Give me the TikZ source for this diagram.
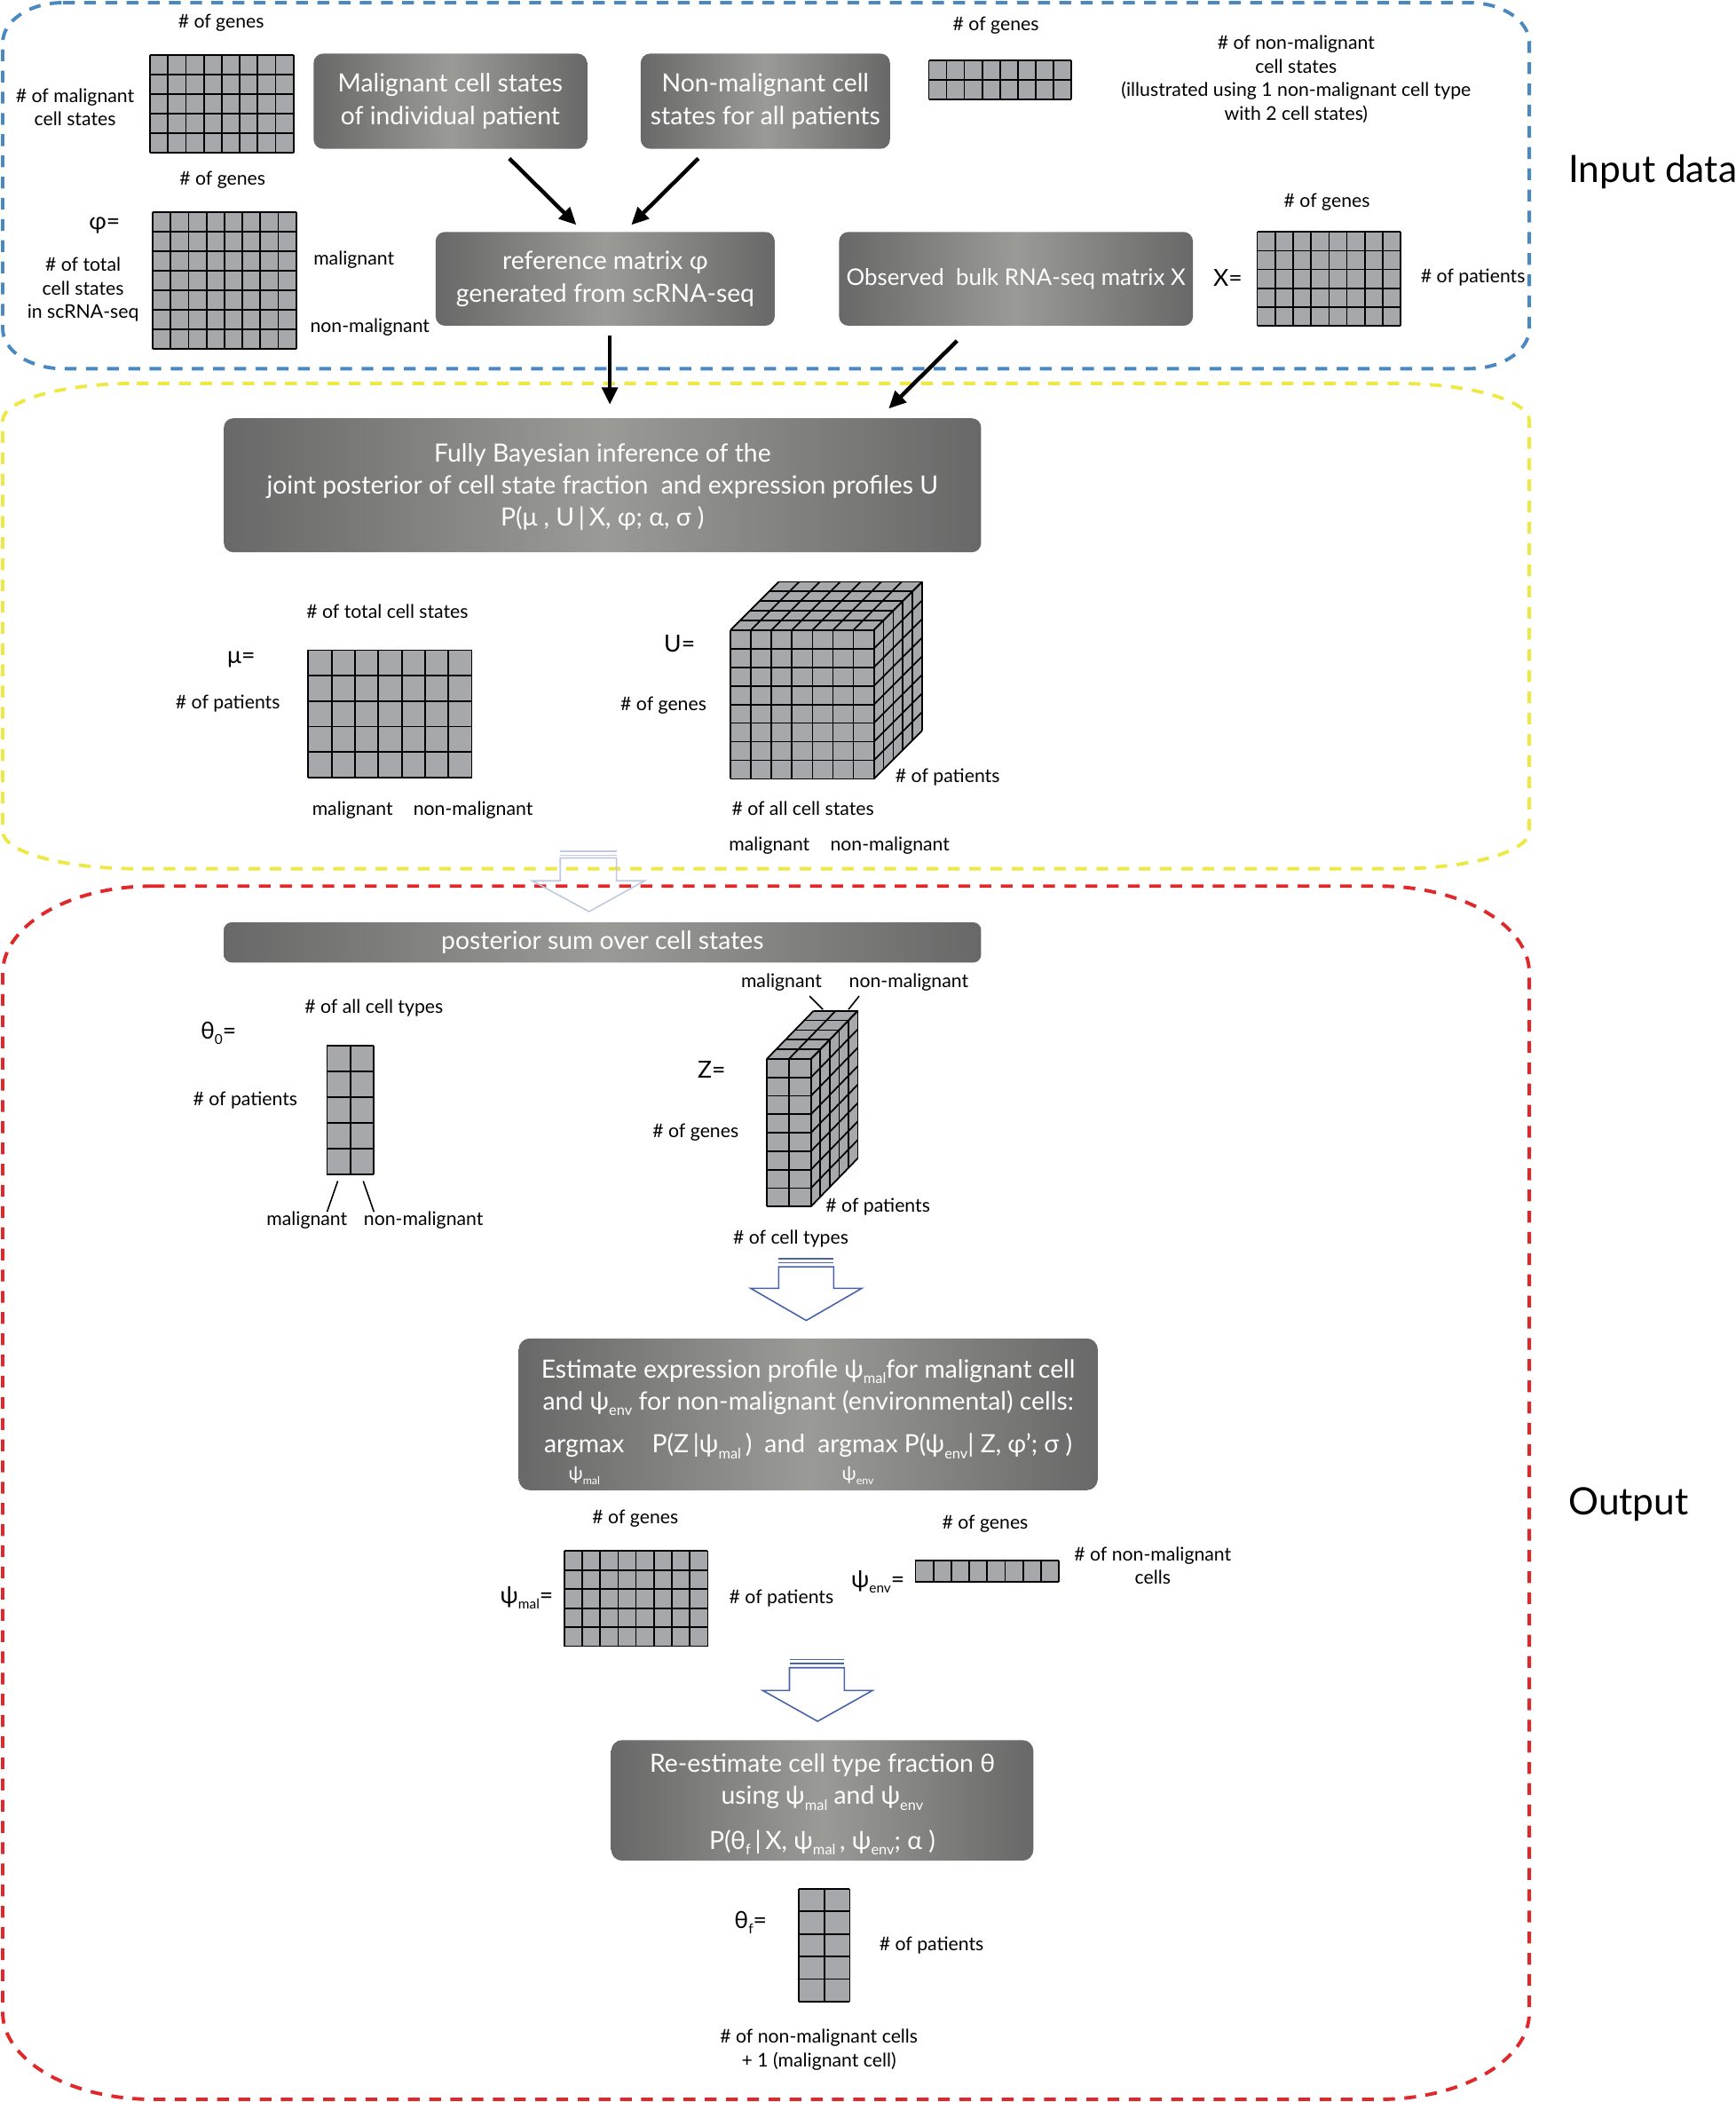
\documentclass[tikz,border=0pt]{standalone}
\usepackage{fontspec}
\setmainfont{Lato}
\usetikzlibrary{arrows.meta}
\definecolor{blueD}{RGB}{74,136,194}
\definecolor{yellowD}{RGB}{238,232,70}
\definecolor{redD}{RGB}{224,40,42}
\definecolor{cellfill}{RGB}{166,168,172}
\definecolor{boxdark}{RGB}{104,104,104}
\definecolor{boxlight}{RGB}{154,154,151}
\definecolor{paleA}{RGB}{190,200,222}
\definecolor{hollowB}{RGB}{72,100,168}
\newcommand\lo[1]{\raisebox{-0.45ex}{\scalebox{0.58}{#1}}}
\newcommand\argm[1]{\begin{tabular}[t]{@{}c@{}}argmax\\[-3pt]\scalebox{0.75}{ψ\lo{#1}}\end{tabular}}
\newcommand\mgrid[6]{%
  \fill[cellfill] (#1,#2) rectangle (#3,#4);
  \foreach \k in {0,...,#5} \draw[gridline] ({#1+(#3-#1)*\k/#5},#2) -- ({#1+(#3-#1)*\k/#5},#4);
  \foreach \k in {0,...,#6} \draw[gridline] (#1,{#2+(#4-#2)*\k/#6}) -- (#3,{#2+(#4-#2)*\k/#6});
}
\newcommand\mcube[9]{%
  \fill[cellfill] (#1,#2) -- (#3,#2) -- ({#3+(#8)},{#2+(#9)}) -- ({#1+(#8)},{#2+(#9)}) -- cycle;
  \fill[cellfill] (#3,#2) -- ({#3+(#8)},{#2+(#9)}) -- ({#3+(#8)},{#4+(#9)}) -- (#3,#4) -- cycle;
  \foreach \k in {0,...,#5} \draw[gridline] ({#1+(#3-#1)*\k/#5},#2) -- ({#1+(#3-#1)*\k/#5+(#8)},{#2+(#9)});
  \foreach \k in {0,...,#7} \draw[gridline] ({#1+(#8)*\k/#7},{#2+(#9)*\k/#7}) -- ({#3+(#8)*\k/#7},{#2+(#9)*\k/#7}) -- ({#3+(#8)*\k/#7},{#4+(#9)*\k/#7});
  \foreach \k in {0,...,#6} \draw[gridline] (#3,{#2+(#4-#2)*\k/#6}) -- ({#3+(#8)},{#2+(#4-#2)*\k/#6+(#9)});
  \mgrid{#1}{#2}{#3}{#4}{#5}{#6}
}
\newcommand\erect[7]{%
  \draw[#1] ({#2+#6},#3) -- ({#4-#6},#3)
    arc[start angle=-90,end angle=0,x radius=#6,y radius=#7] -- (#4,{#5-#7})
    arc[start angle=0,end angle=90,x radius=#6,y radius=#7] -- ({#2+#6},#5)
    arc[start angle=90,end angle=180,x radius=#6,y radius=#7] -- (#2,{#3+#7})
    arc[start angle=180,end angle=270,x radius=#6,y radius=#7] -- cycle;
}
\begin{document}
\begin{tikzpicture}[x=0.03cm,y=-0.03cm,
  lbl/.style={font=\fontsize{12}{15}\selectfont, align=center, inner sep=0pt},
  eq/.style={font=\fontsize{15}{18}\selectfont, inner sep=0pt},
  sect/.style={font=\fontsize{24}{28}\selectfont, inner sep=0pt, anchor=west},
  gbox/.style={rounded corners=6pt, left color=boxdark, right color=boxdark, middle color=boxlight, text=white, align=center, font=\fontsize{16}{20.5}\selectfont, inner sep=0pt},
  bsize/.style 2 args={minimum width=#1*0.03cm, minimum height=#2*0.03cm},
  blk/.style={line width=2.5pt, -{Triangle[length=11pt,width=10pt]}},
  gridline/.style={line width=1pt, black},
  frame/.style={line width=2.2pt, dash pattern=on 7.5pt off 6pt},
  leader/.style={line width=0.9pt},
  hol/.style={line width=0.9pt, line join=miter}]
\useasboundingbox (0,0) rectangle (1295,1568);

% ---------- section frames ----------
\erect{frame,blueD}{2}{2}{1141}{275}{45}{30}
\erect{frame,yellowD}{2}{286}{1141}{648}{100}{28}
\erect{frame,redD}{2}{661}{1141}{1566}{112}{65}
\node[sect] (inputlbl) at (1170,128) {Input data};
\node[sect] (outputlbl) at (1170,1122) {Output};

% ---------- input data ----------
\node[lbl] (g1) at (165,17) {\# of genes};
\mgrid{112}{41}{219}{114}{8}{5}
\node[lbl] (malst) at (56,80) {\# of malignant\\cell states};
\node[gbox,bsize={204}{71}] (mal) at (336,75.5) {Malignant cell states\\of individual patient};
\node[gbox,bsize={186}{71}] (nonmal) at (571,75.5) {Non-malignant cell\\states for all patients};
\node[lbl] (g2) at (743,19) {\# of genes};
\mgrid{693}{45}{799}{74}{8}{2}
\node[lbl] (nmst) at (967,59) {\# of non-malignant\\cell states\\(illustrated using 1 non-malignant cell type\\with 2 cell states)};

\node[lbl] (g3) at (166,134) {\# of genes};
\node[eq] (phieq) at (78,168) {φ=};
\mgrid{114}{158}{221}{260}{8}{7}
\node[lbl] (totst) at (62,216) {\# of total\\cell states\\in scRNA-seq};
\node[lbl] (phimal) at (264,194) {malignant};
\node[lbl] (phinon) at (276,244) {non-malignant};
\node[gbox,bsize={253}{70}] (ref) at (451.5,208) {reference matrix φ\\generated from scRNA-seq};
\node[gbox,bsize={264}{70},font=\fontsize{14.6}{18}\selectfont] (obs) at (758,208) {Observed\ \ bulk RNA-seq matrix X};
\node[eq] (xeq) at (916,207) {X=};
\mgrid{938}{173}{1045}{243}{8}{5}
\node[lbl] (g4) at (990,151) {\# of genes};
\node[lbl] (p1) at (1099,207) {\# of patients};

\draw[blk] ([shift={(44,7)}]mal.south) -- ([shift={(-21.5,-5)}]ref.north);
\draw[blk] ([shift={(-50,7)}]nonmal.south) -- ([shift={(19.5,-5)}]ref.north);

% ---------- inference ----------
\node[gbox,bsize={565}{100}] (bayes) at (449.5,362) {\rule{0pt}{14pt}Fully Bayesian inference of the\\joint posterior of cell state fraction\ \ and expression profiles U\\P(μ , U\,|\,X, φ; α, σ )};
\draw[blk] ([shift={(3.5,7)}]ref.south) -- ([shift={(5.5,-10)}]bayes.north);
\draw[blk] ([shift={(-44,11)}]obs.south) -- ([shift={(213.5,-7)}]bayes.north);

\node[lbl] (tcs) at (289,456) {\# of total cell states};
\node[eq] (mueq) at (180,492) {μ=};
\node[lbl] (p2) at (170,525) {\# of patients};
\mgrid{230}{485}{352}{580}{7}{5}
\node[lbl] (mumal) at (263,604) {malignant};
\node[lbl] (munon) at (353,604) {non-malignant};

\node[eq] (ueq) at (507,480) {U=};
\node[lbl] (g5) at (495,526) {\# of genes};
\mcube{545}{470}{652}{581}{7}{8}{5}{36}{-36}
\node[lbl] (p3) at (707,580) {\# of patients};
\node[lbl] (acs) at (599,603) {\# of all cell states};
\node[lbl] (umal) at (574,631) {malignant};
\node[lbl] (unon) at (664,631) {non-malignant};

% hollow arrow A
\draw[hol,paleA] (418,635) -- (460,635) (418,638) -- (460,638);
\draw[hol,paleA] (418,640) -- (418,657) -- (397,657) -- (439.5,680) -- (481,657) -- (460,657) -- (460,640) -- cycle;

% ---------- output ----------
\node[gbox,rounded corners=5pt,bsize={565}{30}] (post) at (449.5,703) {posterior sum over cell states};

\node[lbl] (act) at (279,752) {\# of all cell types};
\node[eq] (th0eq) at (163,771) {θ\lo{0}=};
\node[lbl] (p4) at (183,821) {\# of patients};
\mgrid{244}{780}{279}{876}{2}{5}
\coordinate (t0a) at (252,881);
\coordinate (t0b) at (271,881);
\node[lbl] (t0mal) at (229,910) {malignant};
\node[lbl] (t0non) at (316,910) {non-malignant};
\draw[leader] (t0a) -- (244,904);
\draw[leader] (t0b) -- (279,904);

\node[lbl] (zmal) at (583,733) {malignant};
\node[lbl] (znon) at (678,733) {non-malignant};
\draw[leader] (604,743) -- (614,753);
\draw[leader] (641,743) -- (633,753);
\node[eq] (zeq) at (531,798) {Z=};
\node[lbl] (g6) at (519,845) {\# of genes};
\mcube{572}{790}{605}{900}{2}{8}{5}{35}{-36}
\node[lbl] (p5) at (655,900) {\# of patients};
\node[lbl] (nct) at (590,924) {\# of cell types};

% hollow arrow B
\draw[hol,hollowB] (581,939) -- (622,939) (581,942) -- (622,942);
\draw[hol,hollowB] (581,945) -- (581,961) -- (560,961) -- (601.5,985) -- (643,961) -- (622,961) -- (622,945) -- cycle;

\node[gbox,rounded corners=7pt,bsize={432}{110}] (est) at (603,1055) {\rule{0pt}{25pt}Estimate expression profile ψ\lo{mal}for malignant cell\\and ψ\lo{env} for non-malignant (environmental) cells:\\[7pt]\argm{mal}\hspace{1.1em}P(Z\,|ψ\lo{mal}\,)\hspace{0.5em}and\hspace{0.5em}\argm{env} P(ψ\lo{env}| Z, φ’; σ )};

\node[lbl] (g7) at (474,1133) {\# of genes};
\node[eq] (pmeq) at (393,1192) {ψ\lo{mal}=};
\mgrid{421}{1157}{528}{1228}{8}{5}
\node[lbl] (p6) at (583,1192) {\# of patients};
\node[lbl] (g8) at (735,1137) {\# of genes};
\node[eq] (peeq) at (655,1180) {ψ\lo{env}=};
\mgrid{683}{1164}{790}{1180}{8}{1}
\node[lbl] (nmc) at (860,1168) {\# of non-malignant\\cells};

% hollow arrow C
\draw[hol,hollowB] (589,1238) -- (630,1238) (589,1241) -- (630,1241);
\draw[hol,hollowB] (589,1244) -- (589,1261) -- (569,1261) -- (610,1284) -- (651,1261) -- (630,1261) -- (630,1244) -- cycle;

\node[gbox,rounded corners=7pt,bsize={315}{90}] (reest) at (613.5,1343) {\rule{0pt}{17pt}Re-estimate cell type fraction θ\\using ψ\lo{mal} and ψ\lo{env}\\[8pt]P(θ\lo{f}\,|\,X, ψ\lo{mal}\,, ψ\lo{env}; α )};

\node[eq] (tfeq) at (560,1434) {θ\lo{f}=};
\mgrid{596}{1409}{634}{1493}{2}{5}
\node[lbl] (p7) at (695,1451) {\# of patients};
\node[lbl] (nmc2) at (611,1529) {\# of non-malignant cells\\+ 1 (malignant cell)};
\end{tikzpicture}
\end{document}
